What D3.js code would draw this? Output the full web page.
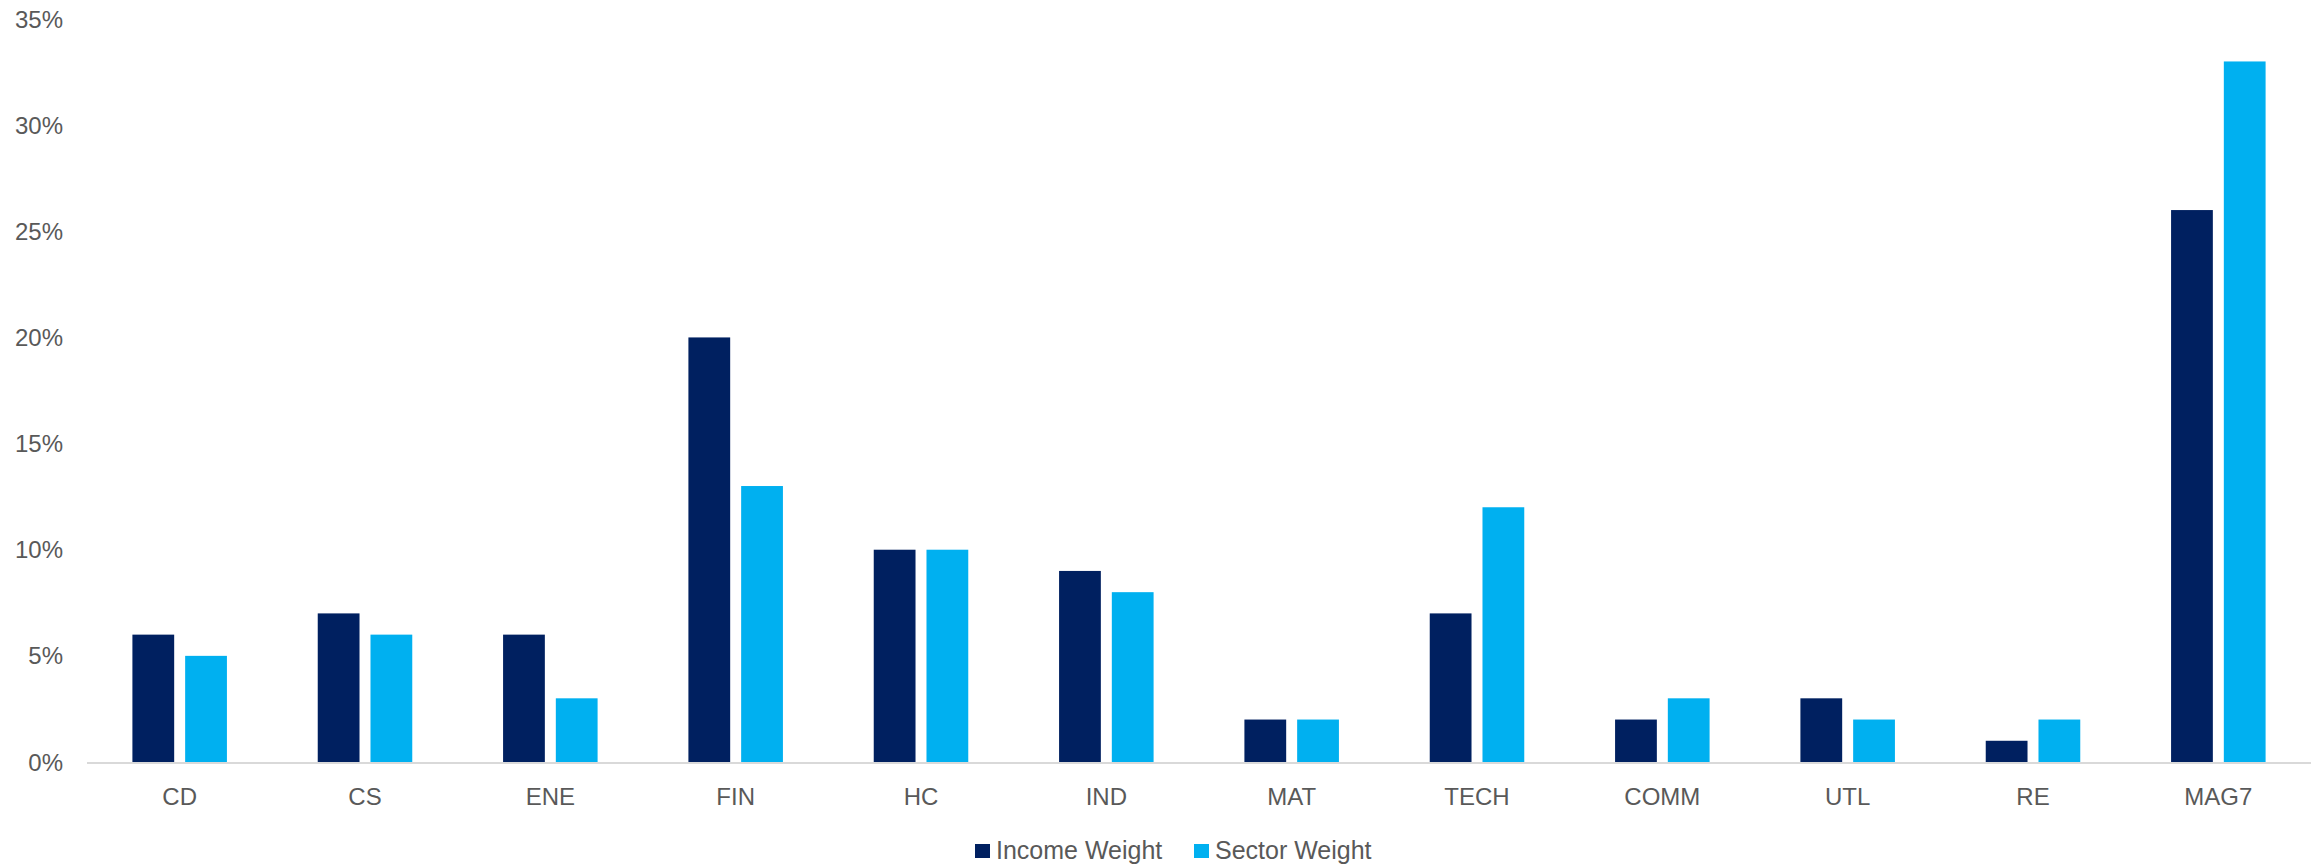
<!DOCTYPE html>
<html>
<head>
<meta charset="utf-8">
<script src="https://cdn.jsdelivr.net/npm/d3@7"></script>
<style>
  body { margin: 0; background: #fff; }
  svg text { font-family: "Liberation Sans", Arial, sans-serif; fill: #595959; }
</style>
</head>
<body>
<div id="chart"></div>
<script>
// categories and series (percent)
var categories = ['CD', 'CS', 'ENE', 'FIN', 'HC', 'IND', 'MAT', 'TECH', 'COMM', 'UTL', 'RE', 'MAG7'];
var seriesNames = ['Income Weight', 'Sector Weight'];
var incomeWeight = [6, 7, 6, 20, 10, 9, 2, 7, 2, 3, 1, 26];
var sectorWeight = [5, 6, 3, 13, 10, 8, 2, 12, 3, 2, 2, 33];
var yTicks = [0, 5, 10, 15, 20, 25, 30, 35];
var colors = ['#002060', '#00B0F0'];

var W = 2313, H = 864;
// plot area (note: "top" is reserved on window, use other names)
var plotL = 87, plotR = 2311, plotT = 19, plotB = 762;

var svg = d3.select('#chart').append('svg')
	.attr('width', W).attr('height', H);

var x0 = d3.scaleBand().domain(categories).range([plotL, plotR])
	.paddingInner(0.49).paddingOuter(0.245);
var x1 = d3.scaleBand().domain(seriesNames).range([0, x0.bandwidth()])
	.paddingInner(0.208);
var y = d3.scaleLinear().domain([0, 35]).range([plotB, plotT]);

// y labels
svg.append('g').selectAll('text')
	.data(yTicks).enter().append('text')
	.attr('x', 63).attr('y', function(d) { return y(d); })
	.attr('dy', '0.36em')
	.attr('text-anchor', 'end')
	.style('font-size', '24px')
	.text(function(d) { return d + '%'; });

// bars
var rows = categories.map(function(c, i) {
	return {cat: c, vals: [incomeWeight[i], sectorWeight[i]]};
});
var groups = svg.append('g').selectAll('g')
	.data(rows).enter().append('g')
	.attr('transform', function(d) { return 'translate(' + x0(d.cat) + ',0)'; });
groups.selectAll('rect')
	.data(function(d) { return d.vals.map(function(v, j) { return {s: seriesNames[j], v: v, j: j}; }); })
	.enter().append('rect')
	.attr('x', function(d) { return x1(d.s); })
	.attr('width', x1.bandwidth())
	.attr('y', function(d) { return y(d.v); })
	.attr('height', function(d) { return plotB - y(d.v); })
	.attr('fill', function(d) { return colors[d.j]; });

// baseline
svg.append('line')
	.attr('x1', plotL).attr('x2', plotR)
	.attr('y1', plotB + 1).attr('y2', plotB + 1)
	.attr('stroke', '#D9D9D9').attr('stroke-width', 2);

// x labels
svg.append('g').selectAll('text')
	.data(categories).enter().append('text')
	.attr('x', function(d) { return x0(d) + x0.bandwidth() / 2; })
	.attr('y', 805)
	.attr('text-anchor', 'middle')
	.style('font-size', '24px')
	.text(function(d) { return d; });

// legend
var legendX = [975, 1194];
var lg = svg.append('g').selectAll('g')
	.data(seriesNames).enter().append('g')
	.attr('transform', function(d, i) { return 'translate(' + legendX[i] + ',0)'; });
lg.append('rect')
	.attr('x', 0).attr('y', 844).attr('width', 15).attr('height', 14)
	.attr('fill', function(d, i) { return colors[i]; });
lg.append('text')
	.attr('x', 21).attr('y', 859)
	.style('font-size', '25px')
	.text(function(d) { return d; });
</script>
</body>
</html>
